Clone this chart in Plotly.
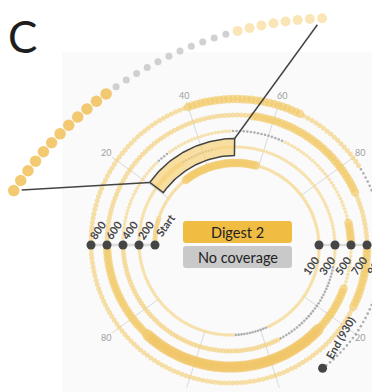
import numpy as np
import plotly.graph_objects as go

# ---------------- data ----------------
seq_length = 930
# coverage segments along the sequence: [start, end) and class
# L = light coverage, M = medium, T = thick, H = heavy, G = no coverage
seg_start = [0, 12, 30, 60, 100, 138, 150, 200, 221, 233, 244, 300, 307, 336, 400, 427, 431, 450,
             465, 494, 500, 512, 525, 575, 600, 655, 688, 700, 716, 800, 840, 866, 883, 900]
seg_end = [12, 30, 60, 100, 138, 150, 200, 221, 233, 244, 300, 307, 336, 400, 427, 431, 450, 465,
           494, 500, 512, 525, 575, 600, 655, 688, 700, 716, 800, 840, 866, 883, 900, 931]
seg_class = ['M', 'L', 'T', 'L', 'L', 'G', 'L', 'L', 'M', 'G', 'L', 'L', 'G', 'M', 'L', 'G', 'L', 'G',
             'L', 'T', 'L', 'T', 'H', 'T', 'M', 'T', 'M', 'T', 'M', 'M', 'T', 'M', 'G', 'G']

marker_res = [0, 200, 400, 600, 800, 100, 300, 500, 700, 900, 930]
marker_text = ['Start', '200', '400', '600', '800', '100', '300', '500', '700', '900', 'End (930)']

tick_res = [20, 40, 60, 80, 120, 140, 160, 180]
tick_text = ['20', '40', '60', '80', '20', '40', '60', '80']

# magnified region (residues 221-251)
zoom_res = list(range(221, 252))
zoom_class = ['D', 'D', 'D', 'D', 'D', 'D', 'D', 'D', 'D', 'D', 'D', 'D',
              'N', 'N', 'N', 'N', 'N', 'N', 'N', 'N', 'N', 'N', 'N',
              'O', 'O', 'O', 'O', 'O', 'O', 'O', 'O']
box_res = [220.5, 250.5]

legend_labels = ['Digest 2', 'No coverage']
legend_colors = ['#F0BC42', '#C9C9C9']

# ---------------- styles / geometry ----------------
R0, K = 78.0, 0.08          # spiral radius at start, growth per residue
DEG_PER_RES = 1.8           # 200 residues per turn
cls_size = {'L': 3.6, 'M': 5.0, 'T': 8.5, 'H': 11.5, 'G': 2.6}
cls_color = {'L': '#F5D68C', 'M': '#F4D183', 'T': '#F2CA6B', 'H': '#F1C565', 'G': '#8E8E8E'}
zoom_size = {'D': 11.5, 'N': 7, 'O': 10}
zoom_color = {'D': '#EEB436', 'N': '#BDBDBD', 'O': '#F8DA97'}

PAGE_OFFSET = 8  # browser body margin


def theta_of(res):
    return 180.0 - DEG_PER_RES * np.asarray(res, float)


def spiral_xy(res, dr=0.0):
    res = np.asarray(res, float)
    th = np.deg2rad(theta_of(res))
    r = R0 + K * res + dr
    return r * np.cos(th), r * np.sin(th)


def polar_xy(r, th_deg, cx=0.0, cy=0.0):
    th = np.deg2rad(th_deg)
    return cx + r * np.cos(th), cy + r * np.sin(th)


fig = go.Figure()

# radial grid lines and angular tick labels
for res, txt in zip(tick_res, tick_text):
    th = theta_of(res)
    xs, ys = polar_xy(np.array([R0 + K * res, 150.0]), th)
    fig.add_trace(go.Scatter(x=xs, y=ys, mode='lines',
                             line=dict(color='#DADADA', width=1), hoverinfo='skip'))
    lx, ly = polar_xy(157.0, th)
    fig.add_annotation(x=lx, y=ly, text=txt, showarrow=False,
                       font=dict(family='Lato', size=9, color='#A0A0A0'),
                       xanchor='center', yanchor='middle')

# guide lines through the turn markers
for side_res, r_end in ((0, 146.0), (100, 154.0)):
    th = theta_of(side_res)
    xs, ys = polar_xy(np.array([R0 + K * side_res, r_end]), th)
    fig.add_trace(go.Scatter(x=xs, y=ys, mode='lines',
                             line=dict(color='#DCDCDC', width=2.5), hoverinfo='skip'))

# spiral coverage
res_all, size_all, color_all = [], [], []
for s, e, c in zip(seg_start, seg_end, seg_class):
    for r in range(s, min(e, seq_length + 1)):
        res_all.append(r)
        size_all.append(cls_size[c])
        color_all.append(cls_color[c])
sx, sy = spiral_xy(res_all)
fig.add_trace(go.Scatter(x=sx, y=sy, mode='markers',
                         marker=dict(size=size_all, color=color_all, line=dict(width=0)),
                         hoverinfo='skip'))

# highlight box on the spiral
bres = np.linspace(box_res[0], box_res[1], 40)
ox, oy = spiral_xy(bres, 8.5)
ix, iy = spiral_xy(bres[::-1], -8.5)
bx = np.concatenate([ox, ix, ox[:1]])
by = np.concatenate([oy, iy, oy[:1]])
fig.add_trace(go.Scatter(x=bx, y=by, mode='lines', fill='toself',
                         fillcolor='rgba(246,210,125,0.72)',
                         line=dict(color='#444444', width=1.5), hoverinfo='skip'))

# magnified view of the boxed region
ZC_X, ZC_Y, ZR, ZROT = 104.0, -162.0, 389.0, 4.0
zth = theta_of(zoom_res) + ZROT
zx, zy = polar_xy(ZR, zth, ZC_X, ZC_Y)

# connector lines
for corner_res, dot_idx in ((box_res[0], 0), (box_res[1], len(zoom_res) - 1)):
    cx_, cy_ = spiral_xy(corner_res, 8.5)
    dx, dy = zx[dot_idx], zy[dot_idx]
    vx, vy = cx_ - dx, cy_ - dy
    n = np.hypot(vx, vy)
    ex, ey = dx + 8 * vx / n, dy + 8 * vy / n
    fig.add_trace(go.Scatter(x=[float(cx_), ex], y=[float(cy_), ey], mode='lines',
                             line=dict(color='#444444', width=1.5), hoverinfo='skip'))

fig.add_trace(go.Scatter(x=zx, y=zy, mode='markers',
                         marker=dict(size=[zoom_size[c] for c in zoom_class],
                                     color=[zoom_color[c] for c in zoom_class],
                                     line=dict(width=0)),
                         hoverinfo='skip'))

# turn markers and labels
mx, my = spiral_xy(marker_res)
fig.add_trace(go.Scatter(x=mx, y=my, mode='markers',
                         marker=dict(size=9, color='#454545'), hoverinfo='skip'))
ang = np.deg2rad(55)
u = np.array([np.cos(ang), np.sin(ang)])
p = np.array([np.sin(ang), -np.cos(ang)])
for res, txt, x0, y0 in zip(marker_res, marker_text, mx, my):
    L = len(txt) * 6.3
    if res % 200 == 100:      # right-hand markers: label below-left
        a, b, tang = -(12 + L / 2), 5.0, -55
    else:
        a, b, tang = 7.0 + L / 2, -3.0, (-60 if txt.startswith('End') else -55)
    c = np.array([x0, y0]) + a * u + b * p
    fig.add_annotation(x=c[0], y=c[1], text='<b>%s</b>' % txt, showarrow=False,
                       textangle=tang, xanchor='center', yanchor='middle',
                       font=dict(family='Lato', size=11, color='#454545'))


# legend boxes
def rounded(x0, x1, y0, y1, rad=3):
    return (f"M{x0+rad},{y0} L{x1-rad},{y0} Q{x1},{y0} {x1},{y0+rad} "
            f"L{x1},{y1-rad} Q{x1},{y1} {x1-rad},{y1} L{x0+rad},{y1} "
            f"Q{x0},{y1} {x0},{y1-rad} L{x0},{y0+rad} Q{x0},{y0} {x0+rad},{y0} Z")


legend_y = [(2, 24), (-23, -1)]
for (y0, y1), lab, col in zip(legend_y, legend_labels, legend_colors):
    fig.add_shape(type='path', path=rounded(-50, 59, y0, y1), xref='x', yref='y',
                  fillcolor=col, line=dict(width=0), layer='above')
    fig.add_annotation(x=4.5, y=(y0 + y1) / 2, text=lab, showarrow=False,
                       font=dict(family='Lato', size=14.5, color='#222222'),
                       xanchor='center', yanchor='middle')

# panel letter
fig.add_annotation(x=-211, y=209, text='C', showarrow=False,
                   font=dict(family='Lato', size=44, color='#1E1E1E'),
                   xanchor='center', yanchor='middle')

# faint plot panel
fig.add_shape(type='rect', xref='x', yref='y', x0=-171, x1=147, y0=-147, y1=193,
              fillcolor='#FAFAFA', line=dict(width=0), layer='below')

W, H = 380 - PAGE_OFFSET, 392 - PAGE_OFFSET
fig.update_layout(
    width=W, height=H, margin=dict(l=0, r=0, t=0, b=0),
    paper_bgcolor='white', plot_bgcolor='white', showlegend=False,
    xaxis=dict(visible=False, range=[-233 + PAGE_OFFSET, 147], fixedrange=True),
    yaxis=dict(visible=False, range=[-147, 245 - PAGE_OFFSET], fixedrange=True),
)

fig.write_html('out.html')
